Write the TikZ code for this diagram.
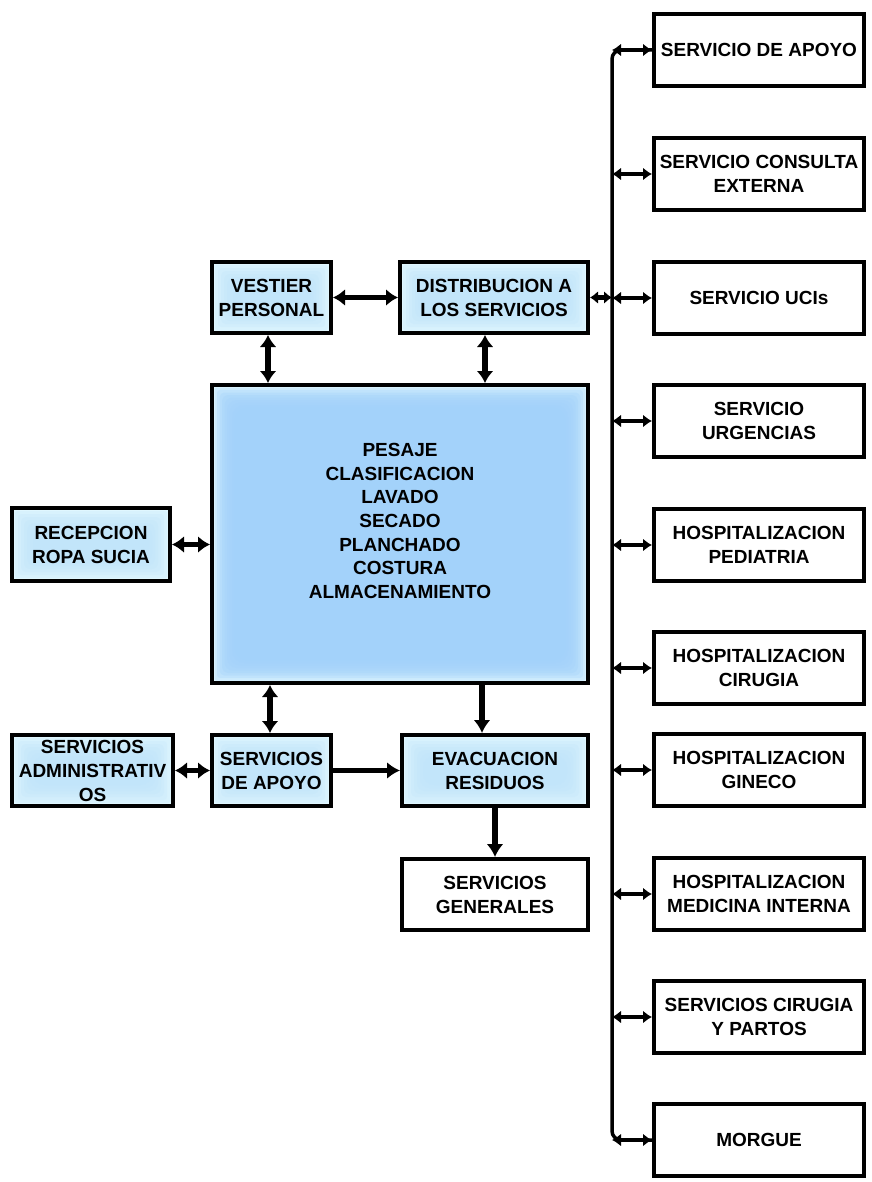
\documentclass[tikz,border=0pt]{standalone}
\usepackage{fontspec}
\setmainfont{Liberation Sans}
\usetikzlibrary{arrows.meta}
\definecolor{paleedge}{HTML}{E0F7FF}
\definecolor{coreblue}{HTML}{A2D2FA}
\definecolor{softblue}{HTML}{BDE3FA}

% soft inner glow: stacked translucent rectangles, denser towards the middle
\newcommand\innerglow[4]{%
  \foreach \k in {1,...,#3}{%
    \fill[#1, opacity=#4, rounded corners=\k*1.6pt]
      ([shift={(\k*#2,\k*#2)}]path picture bounding box.north west) rectangle
      ([shift={(-\k*#2,-\k*#2)}]path picture bounding box.south east);
  }%
}

\begin{document}
\begin{tikzpicture}[x=1pt,y=-1pt,
  font=\fontsize{19}{24}\selectfont\bfseries,
  box/.style={draw=black, line width=4pt, fill=white, inner sep=0pt,
    align=center},
  unitbox/.style={box, minimum width=210pt, minimum height=72pt},
  lightbox/.style={box, fill=paleedge,
    path picture={\innerglow{softblue}{3}{7}{0.22}}},
  corebox/.style={box, fill=paleedge,
    path picture={\innerglow{coreblue}{2.5}{9}{0.3}}},
  link/.style={line width=5.5pt,
    {Latex[length=12pt,width=17pt]}-{Latex[length=12pt,width=17pt]}},
  flow/.style={line width=5.5pt, -{Latex[length=13pt,width=17pt]}},
  stub/.style={line width=5.5pt,
    {Latex[length=8pt,width=13pt]}-{Latex[length=8pt,width=13pt]}},
  tap/.style={line width=4pt,
    {Latex[length=9pt,width=13pt]}-{Latex[length=9pt,width=13pt]}},
  bus/.style={line width=3.5pt, rounded corners=9pt},
]
\useasboundingbox (0,0) rectangle (871,1182);

% ---- left and central blocks ----
\node[lightbox, minimum width=119pt, minimum height=71pt] (vestier) at (271.5,297.5)
  {VESTIER\\PERSONAL};
\node[lightbox, minimum width=188pt, minimum height=71pt] (dist) at (494,297.5)
  {DISTRIBUCION A\\LOS SERVICIOS};
\node[corebox, minimum width=376pt, minimum height=298pt] (proceso) at (400,534) {};
\node[align=center, font=\fontsize{19}{23.7}\selectfont\bfseries] (etapas) at (400,521)
  {PESAJE\\CLASIFICACION\\LAVADO\\SECADO\\PLANCHADO\\COSTURA\\ALMACENAMIENTO};
\node[lightbox, minimum width=158pt, minimum height=73pt] (recepcion) at (91,544.5)
  {RECEPCION\\ROPA SUCIA};
\node[lightbox, minimum width=161pt, minimum height=71pt] (admin) at (92.5,770.5)
  {SERVICIOS\\ADMINISTRATIV\\OS};
\node[lightbox, minimum width=119pt, minimum height=71pt] (apoyo) at (271.5,770.5)
  {SERVICIOS\\DE APOYO};
\node[lightbox, minimum width=186pt, minimum height=71pt] (evac) at (495,770.5)
  {EVACUACION\\RESIDUOS};
\node[box, minimum width=186pt, minimum height=71pt] (generales) at (495,894.5)
  {SERVICIOS\\GENERALES};

% ---- service column ----
\node[unitbox] (s1)  at (759,50)   {SERVICIO DE APOYO};
\node[unitbox] (s2)  at (759,174)  {SERVICIO CONSULTA\\EXTERNA};
\node[unitbox] (s3)  at (759,298)  {SERVICIO UCIs};
\node[unitbox] (s4)  at (759,421)  {SERVICIO\\URGENCIAS};
\node[unitbox] (s5)  at (759,545)  {HOSPITALIZACION\\PEDIATRIA};
\node[unitbox] (s6)  at (759,668)  {HOSPITALIZACION\\CIRUGIA};
\node[unitbox] (s7)  at (759,770)  {HOSPITALIZACION\\GINECO};
\node[unitbox] (s8)  at (759,894)  {HOSPITALIZACION\\MEDICINA INTERNA};
\node[unitbox] (s9)  at (759,1017) {SERVICIOS CIRUGIA\\Y PARTOS};
\node[unitbox] (s10) at (759,1140) {MORGUE};

% ---- guide coordinates for connector columns ----
\coordinate (busx) at (612,0);
\coordinate (colA) at (268,0);
\coordinate (colB) at (485,0);
\coordinate (colC) at (270,0);
\coordinate (colD) at (482,0);

% ---- connectors between blocks ----
\draw[link] (vestier.east) -- (dist.west);
\draw[link] (colA |- vestier.south) -- (colA |- proceso.north);
\draw[link] (colB |- dist.south) -- (colB |- proceso.north);
\draw[link] (recepcion.east) -- (recepcion.east -| proceso.west);
\draw[link] (colC |- proceso.south) -- (colC |- apoyo.north);
\draw[flow] (colD |- proceso.south) -- (colD |- evac.north);
\draw[link] (admin.east) -- (apoyo.west);
\draw[flow] (apoyo.east) -- (evac.west);
\draw[flow] (evac.south) -- (generales.north);

% ---- distribution bus ----
\draw[bus] (s1.west) -- (busx |- s1.west) -- (busx |- s10.west) -- (s10.west);
\draw[stub] (dist.east) -- (busx |- dist.east);
\foreach \s in {s1,s2,s3,s4,s5,s6,s7,s8,s9,s10}
  \draw[tap] (busx |- \s.west) -- (\s.west);
\end{tikzpicture}
\end{document}
